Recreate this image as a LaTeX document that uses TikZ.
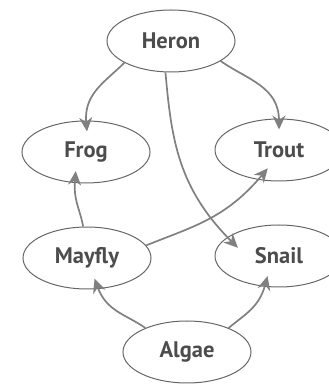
\documentclass[tikz,border=0pt]{standalone}
\usepackage{fontspec}
\setmainfont{PT Sans}
\usetikzlibrary{shapes.geometric,arrows.meta}

\begin{document}
\begin{tikzpicture}[x=1pt,y=1pt,>={Stealth[length=14pt,width=13pt]},
  animal/.style={ellipse,draw=black!60,line width=1pt,minimum width=128pt,minimum height=62pt,inner sep=0pt,
    text=black!70,font=\bfseries\fontsize{22.5}{24}\selectfont},
  eats/.style={->,draw=black!50,line width=1.7pt,shorten >=-11pt}]
\useasboundingbox (0,0) rectangle (329,388);
\node[animal] (heron) at (171,347) {Heron};
\node[animal] (frog) at (86,236) {Frog};
\node[animal] (trout) at (279,238) {Trout};
\node[animal] (mayfly) at (87,130) {Mayfly};
\node[animal] (snail) at (279,132) {Snail};
\node[animal] (algae) at (187,36) {Algae};
% who eats whom
\draw[eats] (heron.205) to[out=225,in=95] (frog.north);
\draw[eats] (heron.-22) to[out=-35,in=90] (trout.north);
\draw[eats,shorten >=-15pt] (heron.260) to[out=-85,in=135] (snail.160);
\draw[eats,shorten >=-15pt] (mayfly.12) to[out=22,in=-130] (trout.235);
\draw[eats,shorten >=-12pt] (mayfly.97) to[out=100,in=-95] (frog.250);
\draw[eats] (algae.150) to[out=145,in=-70] (mayfly.290);
\draw[eats] (algae.30) to[out=40,in=-105] (snail.245);
\end{tikzpicture}
\end{document}
